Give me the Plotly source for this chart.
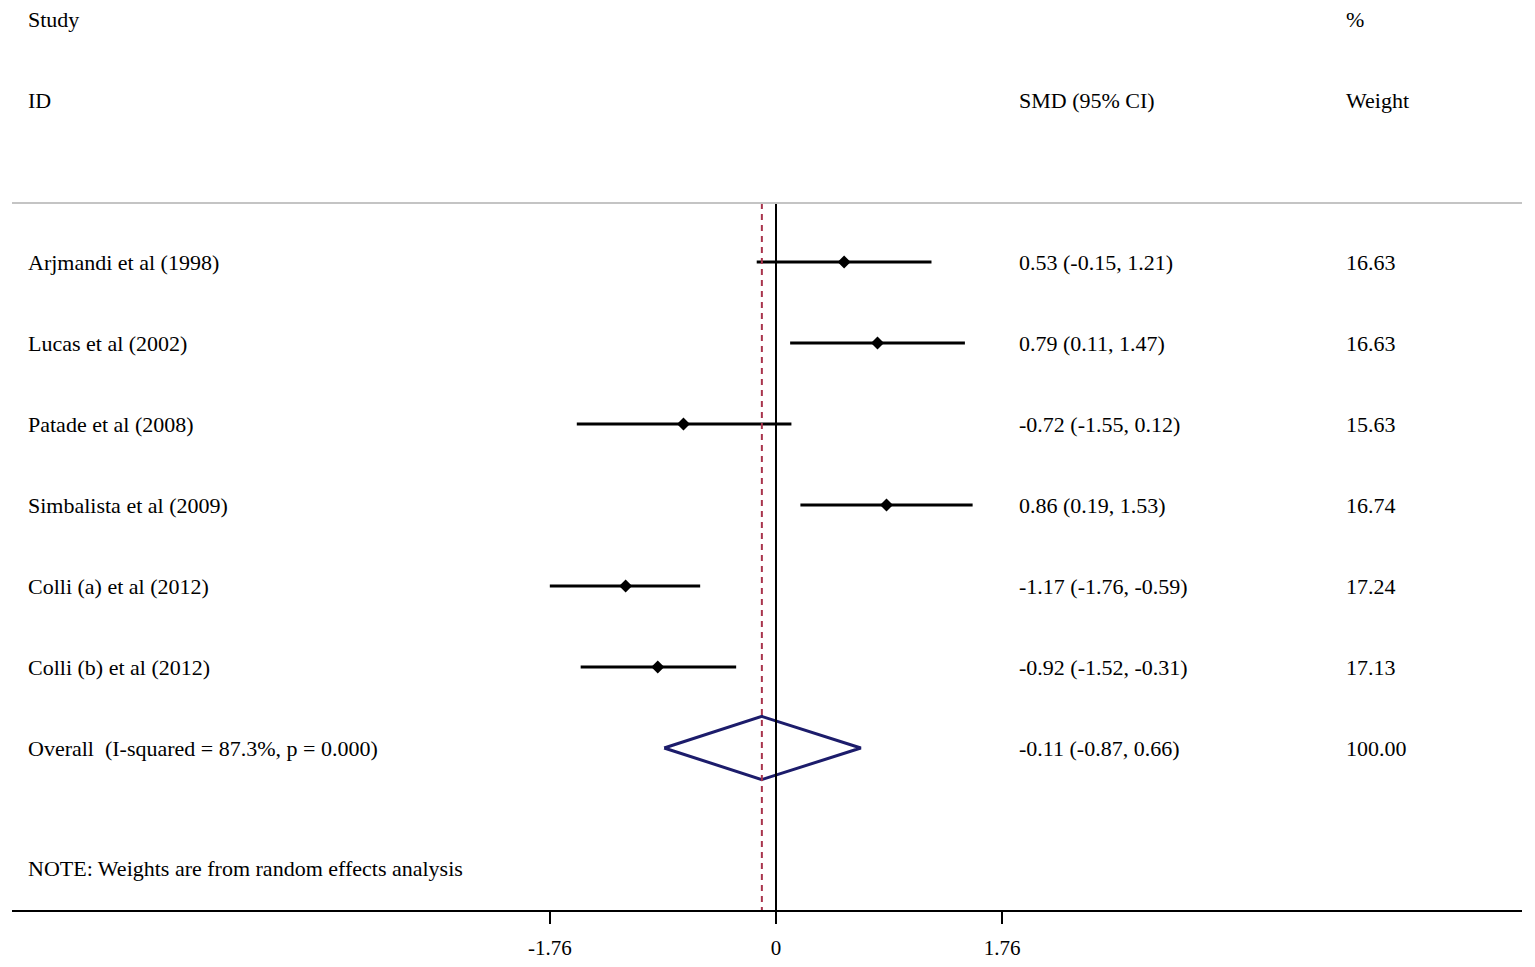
import plotly.graph_objects as go

# forest plot data
studies = ["Arjmandi et al (1998)", "Lucas et al (2002)", "Patade et al (2008)",
           "Simbalista et al (2009)", "Colli (a) et al (2012)", "Colli (b) et al (2012)"]
smd = [0.53, 0.79, -0.72, 0.86, -1.17, -0.92]
ci_lo = [-0.15, 0.11, -1.55, 0.19, -1.76, -1.52]
ci_hi = [1.21, 1.47, 0.12, 1.53, -0.59, -0.31]
weights = [16.63, 16.63, 15.63, 16.74, 17.24, 17.13]
overall_label = "Overall  (I-squared = 87.3%, p = 0.000)"
overall = [-0.11, -0.87, 0.66]   # estimate, lower, upper
overall_weight = 100.00
ticks = [-1.76, 0, 1.76]

FONT = "Liberation Serif"
FS = 22
x_study = -5.836
x_smd = 1.874
x_wt = 4.42

rows = list(range(1, len(studies) + 1))
y_overall = len(studies) + 1

fig = go.Figure()

# confidence intervals
for i, y in enumerate(rows):
    fig.add_trace(go.Scatter(x=[ci_lo[i], ci_hi[i]], y=[y, y], mode="lines",
                             line=dict(color="black", width=3),
                             hoverinfo="skip", showlegend=False))
fig.add_trace(go.Scatter(x=smd, y=rows, mode="markers",
                         marker=dict(symbol="diamond", size=10, color="black"),
                         showlegend=False))

# overall diamond
est, lo, hi = overall
fig.add_trace(go.Scatter(x=[lo, est, hi, est, lo], y=[y_overall, y_overall - 0.39, y_overall, y_overall + 0.39, y_overall],
                         mode="lines", line=dict(color="#1c1c6b", width=3),
                         showlegend=False))

# null line and overall line
fig.add_shape(type="line", x0=0, x1=0, y0=0.27, y1=9.0, line=dict(color="black", width=2))
fig.add_shape(type="line", x0=est, x1=est, y0=0.27, y1=9.0,
              line=dict(color="#a8344c", width=2, dash="6px,5px"))
# header separator
fig.add_shape(type="line", x0=0, x1=1, xref="paper", y0=0.27, y1=0.27,
              line=dict(color="#c4c4c4", width=2))

tf = dict(family=FONT, size=FS, color="black")

def txt(x, y, s):
    fig.add_annotation(x=x, y=y, text=s, showarrow=False, xanchor="left",
                       yanchor="middle", font=tf)

txt(x_study, -2, "Study")
txt(x_study, -1, "ID")
txt(x_smd, -1, "SMD (95% CI)")
txt(x_wt, -2, "%")
txt(x_wt, -1, "Weight")

for i, y in enumerate(rows):
    txt(x_study, y, studies[i])
    txt(x_smd, y, f"{smd[i]:.2f} ({ci_lo[i]:.2f}, {ci_hi[i]:.2f})")
    txt(x_wt, y, f"{weights[i]:.2f}")

txt(x_study, y_overall, overall_label)
txt(x_smd, y_overall, f"{est:.2f} ({lo:.2f}, {hi:.2f})")
txt(x_wt, y_overall, f"{overall_weight:.2f}")
txt(x_study, 8.49, "NOTE: Weights are from random effects analysis")

fig.update_xaxes(range=[-5.945, 5.805], showgrid=False, zeroline=False,
                 showline=True, linecolor="black", linewidth=2,
                 ticks="outside", ticklen=12, tickwidth=2, tickcolor="black",
                 ticklabelstandoff=6,
                 tickvals=ticks, ticktext=[f"{t:g}" for t in ticks],
                 tickfont=dict(family=FONT, size=21, color="black"))
# page has an 8px body margin, so the plot starts 8px lower than the reference top
fig.update_yaxes(range=[9.0, -2.136], visible=False, showgrid=False, zeroline=False)

fig.update_layout(width=1527, height=959, margin=dict(l=4, r=13, t=0, b=57),
                  plot_bgcolor="white", paper_bgcolor="white", showlegend=False)

fig.write_html("out.html")
